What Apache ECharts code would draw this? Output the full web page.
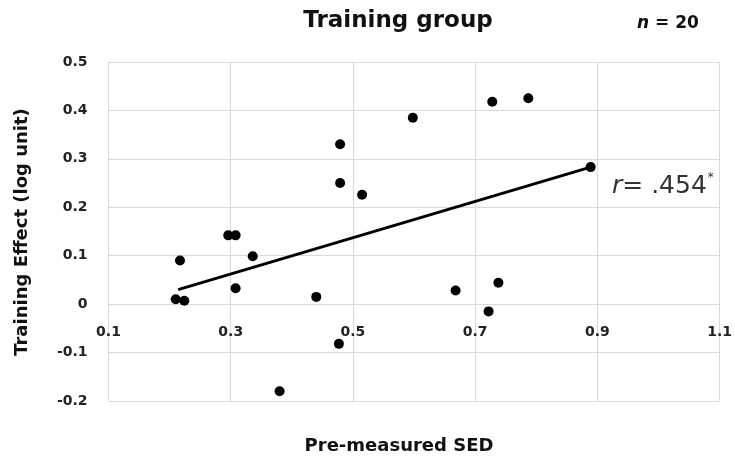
<!DOCTYPE html>
<html>
<head>
<meta charset="utf-8">
<script src="https://cdn.jsdelivr.net/npm/echarts@6/dist/echarts.min.js"></script>
<style>
html,body{margin:0;padding:0;background:#fff;}
#chart{width:735px;height:456px;}
</style>
</head>
<body>
<div id="chart"></div>
<script>
// Pre-measured SED (x) and Training Effect in log units (y), n = 20
const sedValues = [0.21, 0.224, 0.217, 0.296, 0.308, 0.336, 0.308, 0.44, 0.477, 0.38,
                   0.668, 0.722, 0.738, 0.479, 0.479, 0.515, 0.598, 0.728, 0.787, 0.889];
const effectValues = [0.01, 0.007, 0.09, 0.142, 0.142, 0.099, 0.033, 0.015, -0.082, -0.18,
                      0.028, -0.015, 0.044, 0.33, 0.25, 0.226, 0.385, 0.418, 0.425, 0.283];
// Fitted trend line end points
const trendX = [0.214, 0.889];
const trendY = [0.03, 0.283];
const xTicks = [0.1, 0.3, 0.5, 0.7, 0.9, 1.1];
const yTicks = [-0.2, -0.1, 0, 0.1, 0.2, 0.3, 0.4, 0.5];
const titleText = 'Training group';
const nLabel = '20';
const rLabel = '.454';
const xName = 'Pre-measured SED';
const yName = 'Training Effect (log unit)';

const points = sedValues.map((x, i) => [x, effectValues[i]]);
const trend = trendX.map((x, i) => [x, trendY[i]]);
const FONT = '"DejaVu Sans"';
const fmt = v => Math.abs(v) < 1e-9 ? '0' : (Math.round(v * 10) / 10).toFixed(1);

const W = 735, H = 456;
const GRID = {left: 108.5, right: 12, top: 62, bottom: 55};
const gridH = H - GRID.top - GRID.bottom;
const yMin = yTicks[0], yMax = yTicks[yTicks.length - 1];
// x axis sits on the y = 0 line
const xAxisOffset = -gridH * (0 - yMin) / (yMax - yMin);

const chart = echarts.init(document.getElementById('chart'), null, {renderer: 'canvas'});
chart.setOption({
  animation: false,
  backgroundColor: '#ffffff',
  graphic: [
    {
      type: 'text', x: 398, y: 21, z: 10,
      style: {text: titleText, font: 'bold 23px ' + FONT, fill: '#111111', align: 'center', verticalAlign: 'middle'}
    },
    {
      type: 'text', x: 637, y: 24, z: 10,
      style: {
        text: '{i|n}{b| = ' + nLabel + '}', align: 'left', verticalAlign: 'middle',
        rich: {
          i: {font: 'italic bold 17px ' + FONT, fill: '#111111'},
          b: {font: 'bold 17px ' + FONT, fill: '#111111'}
        }
      }
    },
    {
      type: 'text', x: 612, y: 186, z: 10,
      style: {
        text: '{i|r}{t|= ' + rLabel + '}{s|*}', align: 'left', verticalAlign: 'middle',
        rich: {
          i: {font: 'italic 25px ' + FONT, fill: '#333333'},
          t: {font: '25px ' + FONT, fill: '#333333'},
          s: {font: '12px ' + FONT, fill: '#333333', verticalAlign: 'top', padding: [0, 0, 16, 1]}
        }
      }
    },
    {
      type: 'text', x: 399, y: 446, z: 10,
      style: {text: xName, font: 'bold 18px ' + FONT, fill: '#111111', align: 'center', verticalAlign: 'middle'}
    },
    {
      type: 'text', x: 22.5, y: 232, rotation: Math.PI / 2, z: 10,
      style: {text: yName, font: 'bold 18px ' + FONT, fill: '#111111', align: 'center', verticalAlign: 'middle'}
    }
  ],
  grid: {left: GRID.left, right: GRID.right, top: GRID.top, bottom: GRID.bottom, containLabel: false},
  xAxis: {
    type: 'value', min: xTicks[0], max: xTicks[xTicks.length - 1], interval: 0.2,
    position: 'bottom', offset: xAxisOffset,
    axisLine: {show: true, onZero: false, lineStyle: {color: '#d9d9d9', width: 1}},
    axisTick: {show: false},
    splitLine: {show: true, lineStyle: {color: '#d9d9d9', width: 1}},
    axisLabel: {fontFamily: FONT, fontWeight: 'bold', fontSize: 14, color: '#222222', margin: 21, formatter: fmt,
                showMinLabel: true, showMaxLabel: true}
  },
  yAxis: {
    type: 'value', min: yMin, max: yMax, interval: 0.1,
    axisLine: {show: false},
    axisTick: {show: false},
    splitLine: {show: true, lineStyle: {color: '#d9d9d9', width: 1}},
    axisLabel: {fontFamily: FONT, fontWeight: 'bold', fontSize: 14, color: '#222222', margin: 21, formatter: fmt}
  },
  series: [
    {
      type: 'line', data: trend, showSymbol: false, symbol: 'none',
      lineStyle: {color: '#000000', width: 3}, z: 2, silent: true
    },
    {
      type: 'scatter', data: points, symbol: 'circle', symbolSize: 10,
      itemStyle: {color: '#000000', opacity: 1}, z: 3
    }
  ]
});
</script>
</body>
</html>
